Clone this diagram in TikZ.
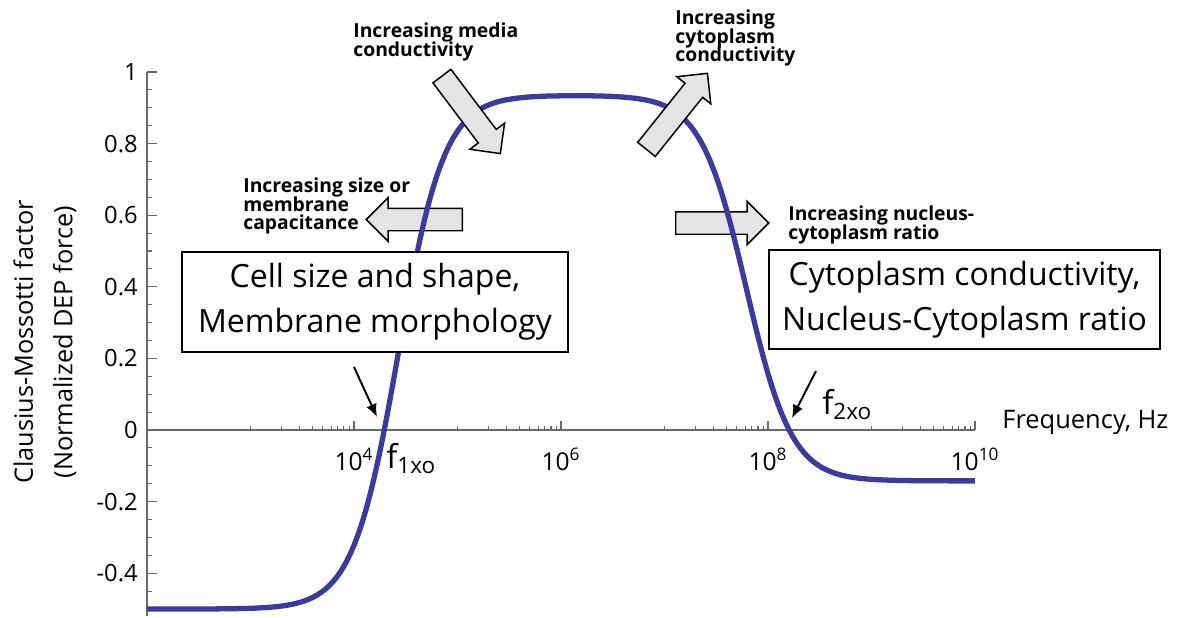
\documentclass[tikz,border=0pt]{standalone}
\usepackage{fontspec}
\setmainfont{Open Sans}
\usetikzlibrary{shapes.arrows,arrows.meta}

\definecolor{curveblue}{RGB}{58,58,160}
\definecolor{axisgray}{RGB}{105,105,105}
\definecolor{arrowfill}{RGB}{228,228,228}

\newcommand{\hintfont}{\bfseries\fontsize{11}{10.8}\selectfont\setlength{\lineskiplimit}{-20pt}}

\tikzset{
    axisline/.style={axisgray, line width=0.6pt},
    depcurve/.style={curveblue, line width=3pt},
    ticklabel/.style={font=\fontsize{13.5}{13.5}\selectfont, inner sep=0pt},
    infobox/.style={draw, fill=white, line width=1.3pt, align=center,
        font=\fontsize{18.2}{25.5}\selectfont},
    hint/.style={font=\hintfont, align=left, inner sep=0pt, anchor=north west},
    bigarrow/.style={single arrow, draw, line width=0.85pt, fill=arrowfill,
        inner sep=0.21cm, single arrow head extend=0.21cm,
        single arrow head indent=0pt, anchor=tail},
    pointer/.style={-{Latex[length=2.6mm,width=2.2mm]}, line width=1.1pt},
}

\begin{document}
\begin{tikzpicture}
    \useasboundingbox (0,0) rectangle (23.6,12.34);

    % arrows that lie under the curve
    \node[bigarrow, minimum height=1.92cm, rotate=180] (arrowsize) at (9.26,7.95) {};
    \node[bigarrow, minimum height=1.86cm] (arrownucleus) at (13.5,7.88) {};

    %%%%%%%%%%%%%%%%%%%%%
    % axes and curve
    %%%%%%%%%%%%%%%%%%%%%
    \begin{scope}[shift={(2.94,3.74)}, x=2.07cm, y=7.16cm]
        \draw[axisline] (0,0) -- (8,0);
        \draw[axisline] (0,-0.52) -- (0,1);

        \foreach \i in {-10,...,20}
            \draw[axisline] (0,\i*0.05) -- ++(0.1cm,0);
        \foreach \i in {-2,...,5}
            \draw[axisline] (0,\i*0.2) -- ++(0.2cm,0);
        \foreach \t [count=\k] in {-0.4,-0.2,0,0.2,0.4,0.6,0.8,1}
            \node[ticklabel, anchor=east] (ylab\k) at ([xshift=-0.18cm]0,\t) {\t};

        \foreach \n in {3,5,7,9}
            \foreach \k in {1,...,9}
                \draw[axisline] ({\n-2+log10(\k)},0) -- ++(0,0.08cm);
        \foreach \e in {4,6,8,10} {
            \draw[axisline] (\e-2,0) -- ++(0,0.18cm);
            \node[ticklabel, font=\fontsize{14}{14}\selectfont, anchor=base]
                (xlab\e) at ([yshift=-0.8cm]\e-2,0) {10\textsuperscript{\e}};
        }

        \draw[depcurve] plot[domain=0:8, samples=201]
            (\x, {-0.5 + 1.435/(1+exp(-max(-9,min(9,(\x-2.43)/0.22))))
                 - 1.077/(1+exp(-max(-9,min(9,(\x-5.79)/0.22))))});
    \end{scope}

    \node[rotate=90, align=center, font=\fontsize{14.4}{22.5}\selectfont]
        (ylabel) at (0.9,5.5) {Clausius-Mossotti factor\\(Normalized DEP force)};
    \node[anchor=base west, inner sep=0pt, font=\fontsize{14.5}{14.5}\selectfont]
        (xlabel) at (20.04,3.78) {Frequency, Hz};

    % arrows that lie over the curve
    \node[bigarrow, minimum height=1.94cm, rotate=-53] (arrowmedia) at (8.83,10.83) {};
    \node[bigarrow, minimum height=1.95cm, rotate=51.3] (arrowcyto) at (12.92,9.34) {};

    % what shifts the curve
    \node[hint] (hintmedia) at (7.06,11.9) {Increasing media\\conductivity};
    \node[hint] (hintcyto) at (13.5,12.16) {Increasing\\cytoplasm\\conductivity};
    \node[hint] (hintsize) at (4.86,8.8) {Increasing size or\\membrane\\capacitance};
    \node[hint] (hintnucleus) at (15.76,8.24) {Increasing nucleus-\\cytoplasm ratio};

    \node[infobox, minimum width=7.72cm, minimum height=2cm]
        (boxcell) at (7.5,6.3) {Cell size and shape,\\Membrane morphology};
    \node[infobox, minimum width=7.82cm, minimum height=1.98cm]
        (boxcyto) at (19.29,6.35) {Cytoplasm conductivity,\\Nucleus-Cytoplasm ratio};

    % crossover frequencies
    \coordinate (f1start) at (7.08,5.0);
    \coordinate (f1end) at (7.54,4.0);
    \coordinate (f2start) at (16.32,4.92);
    \coordinate (f2end) at (15.84,3.98);
    \draw[pointer] (f1start) -- (f1end);
    \draw[pointer] (f2start) -- (f2end);
    \node[anchor=base west, inner sep=0pt] (f1lab) at (7.72,2.98)
        {\fontsize{18.7}{18.7}\selectfont f\raisebox{-3.4pt}{\fontsize{12.8}{12.8}\selectfont 1xo}};
    \node[anchor=base west, inner sep=0pt] (f2lab) at (16.44,4.06)
        {\fontsize{18.7}{18.7}\selectfont f\raisebox{-3.4pt}{\fontsize{12.8}{12.8}\selectfont 2xo}};
\end{tikzpicture}
\end{document}
